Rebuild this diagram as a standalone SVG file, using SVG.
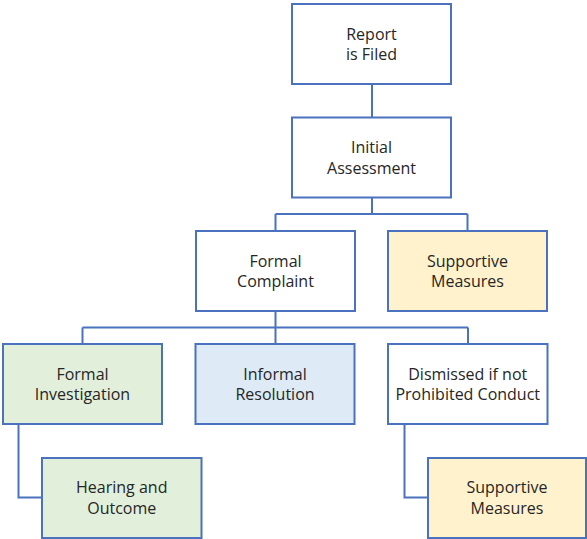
<svg xmlns="http://www.w3.org/2000/svg" width="587" height="539" viewBox="0 0 587 539">
<style>
.box{stroke:#4A72BE;stroke-width:2;}
.w{fill:#FFFFFF;}
.g{fill:#E2EFDA;}
.b{fill:#DEEAF6;}
.y{fill:#FFF2CC;}
.t{font-family:"Open Sans","Liberation Sans",sans-serif;font-size:16px;fill:#262626;text-anchor:middle;}
.c{fill:none;stroke:#4A72BE;stroke-width:2;}
</style>
<rect width="587" height="539" fill="#FFFFFF"/>
<g id="connectors">
<path class="c" d="M372,84V118"/>
<path class="c" d="M372,197V214M275.5,214H467.5M275.5,214V231M467.5,214V231"/>
<path class="c" d="M275.5,311V327.5M82.5,327.5H468M82.5,327.5V344M275.5,327.5V344M468,327.5V344"/>
<path class="c" d="M18.5,424V497.5H42"/>
<path class="c" d="M404.5,424V497.5H428"/>
</g>
<g id="report">
<rect class="box w" x="292" y="4" width="159" height="80"/>
<text class="t" x="371.5" y="40">Report</text>
<text class="t" x="371.5" y="60">is Filed</text>
</g>
<g id="initial">
<rect class="box w" x="292" y="117.5" width="159" height="80"/>
<text class="t" x="371.5" y="153">Initial</text>
<text class="t" x="371.5" y="173.5">Assessment</text>
</g>
<g id="formal-complaint">
<rect class="box w" x="196" y="231" width="159" height="80"/>
<text class="t" x="275.5" y="267">Formal</text>
<text class="t" x="275.5" y="287">Complaint</text>
</g>
<g id="supportive-1">
<rect class="box y" x="388" y="231" width="159" height="80"/>
<text class="t" x="467.5" y="267">Supportive</text>
<text class="t" x="467.5" y="287">Measures</text>
</g>
<g id="formal-investigation">
<rect class="box g" x="3" y="344" width="159" height="80"/>
<text class="t" x="82.5" y="380">Formal</text>
<text class="t" x="82.5" y="400">Investigation</text>
</g>
<g id="informal-resolution">
<rect class="box b" x="195.5" y="344" width="159" height="80"/>
<text class="t" x="275" y="380">Informal</text>
<text class="t" x="275" y="400">Resolution</text>
</g>
<g id="dismissed">
<rect class="box w" x="388" y="344" width="159.5" height="80"/>
<text class="t" x="467.75" y="380">Dismissed if not</text>
<text class="t" x="467.75" y="400">Prohibited Conduct</text>
</g>
<g id="hearing">
<rect class="box g" x="42" y="458" width="159.5" height="80"/>
<text class="t" x="121.75" y="493">Hearing and</text>
<text class="t" x="121.75" y="513.5">Outcome</text>
</g>
<g id="supportive-2">
<rect class="box y" x="428" y="458" width="158" height="80"/>
<text class="t" x="507" y="493">Supportive</text>
<text class="t" x="507" y="513.5">Measures</text>
</g>
</svg>
